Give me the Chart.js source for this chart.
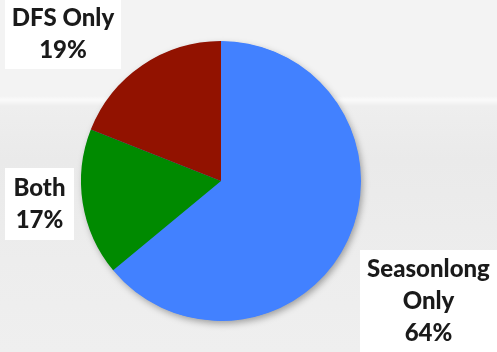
<!DOCTYPE html>
<html lang="en">
<head>
    <meta charset="UTF-8">
    <title>Fantasy players</title>
    <script src="https://cdn.jsdelivr.net/npm/chart.js"></script>
    <style>
        html, body { margin: 0; padding: 0; }
        body {
            width: 497px; height: 352px; overflow: hidden;
            background: linear-gradient(180deg, #f3f3f3 0, #f3f3f3 96px, #fafafa 100px, #eeeeee 106px, #eaeaea 160px, #ededed 260px, #efefef 352px);
        }
        .wrap { position: relative; width: 497px; height: 352px; }
    </style>
</head>
<body>
<div class="wrap">
    <canvas id="pie" width="497" height="352"></canvas>
</div>

<script>
    // data
    const categories = ['Seasonlong Only', 'Both', 'DFS Only'];
    const shares = [64, 17, 19];
    const sliceColors = ['#4281ff', '#008a00', '#921200'];

    // label boxes (layout only): x, y, w, h and text lines
    const boxes = [
        { x: 360, y: 250, w: 137, h: 102, lines: ['Seasonlong', 'Only'] },
        { x: 5, y: 168, w: 69, h: 72, lines: ['Both'] },
        { x: 5, y: 0, w: 116, h: 69, lines: ['DFS Only'] }
    ];

    const shadowPlugin = {
        id: 'shadow',
        beforeDatasetsDraw(chart) {
            const arc = chart.getDatasetMeta(0).data[0];
            if (!arc) return;
            const ctx = chart.ctx;
            ctx.save();
            ctx.shadowColor = 'rgba(0,0,0,0.35)';
            ctx.shadowBlur = 7;
            ctx.shadowOffsetX = 2;
            ctx.shadowOffsetY = 3;
            ctx.fillStyle = sliceColors[0];
            ctx.beginPath();
            ctx.arc(arc.x, arc.y, arc.outerRadius - 0.5, 0, Math.PI * 2);
            ctx.fill();
            ctx.restore();
        }
    };

    const boxLabels = {
        id: 'boxLabels',
        afterDraw(chart) {
            const ctx = chart.ctx;
            ctx.save();
            boxes.forEach((b, i) => {
                ctx.fillStyle = '#ffffff';
                ctx.fillRect(b.x, b.y, b.w, b.h);
                const lines = b.lines.concat([shares[i] + '%']);
                ctx.fillStyle = '#1a1a1a';
                ctx.font = '900 24px Lato';
                ctx.textAlign = 'center';
                ctx.textBaseline = 'middle';
                const lh = 32;
                const top = b.y + b.h / 2 - (lines.length - 1) * lh / 2;
                lines.forEach((t, j) => ctx.fillText(t, b.x + b.w / 2, top + j * lh));
            });
            ctx.restore();
        }
    };

    new Chart(document.getElementById('pie'), {
        type: 'pie',
        data: {
            labels: categories,
            datasets: [{
                data: shares,
                backgroundColor: sliceColors,
                borderWidth: 0
            }]
        },
        options: {
            responsive: false,
            animation: false,
            layout: { padding: { top: 41, bottom: 31, left: 81, right: 136 } },
            plugins: {
                legend: { display: false },
                tooltip: { enabled: false }
            }
        },
        plugins: [shadowPlugin, boxLabels]
    });
</script>
</body>
</html>
